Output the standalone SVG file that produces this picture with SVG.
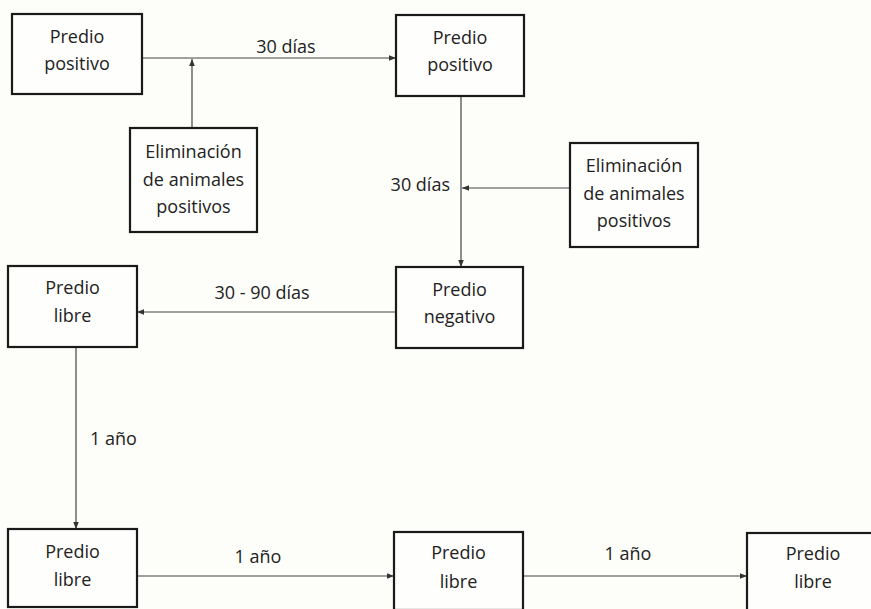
<svg xmlns="http://www.w3.org/2000/svg" width="871" height="609" viewBox="0 0 871 609">
<style>
.box{fill:#fefefc;stroke:#1a1a1a;stroke-width:2.2}
.t{font-family:"Open Sans","Liberation Sans",Arial,sans-serif;font-size:18px;fill:#222;text-anchor:middle}
.lbl{font-family:"Open Sans","Liberation Sans",Arial,sans-serif;font-size:18px;fill:#222}
.c{stroke:#444;stroke-width:1.2;fill:none;marker-end:url(#ah)}
</style>
<defs>
<marker id="ah" viewBox="0 0 10 10" refX="10" refY="5" markerWidth="7" markerHeight="7" markerUnits="userSpaceOnUse" orient="auto">
<path d="M0,1 L10,5 L0,9 z" fill="#333"/>
</marker>
</defs>
<rect width="871" height="609" fill="#fdfdfa"/>
<g id="connectors">
<line class="c" x1="142" y1="58" x2="396" y2="58"/>
<line class="c" x1="192" y1="128" x2="192" y2="59"/>
<line class="c" x1="461" y1="96" x2="461" y2="267"/>
<line class="c" x1="570" y1="188" x2="462" y2="188"/>
<line class="c" x1="396" y1="312" x2="137" y2="312"/>
<line class="c" x1="76" y1="347" x2="76" y2="529"/>
<line class="c" x1="137" y1="576" x2="394" y2="576"/>
<line class="c" x1="523" y1="576" x2="747" y2="576"/>
<text class="lbl" x="286" y="53" text-anchor="middle">30 días</text>
<text class="lbl" x="450" y="191" text-anchor="end">30 días</text>
<text class="lbl" x="262" y="299" text-anchor="middle">30 - 90 días</text>
<text class="lbl" x="90" y="445">1 año</text>
<text class="lbl" x="258" y="563" text-anchor="middle">1 año</text>
<text class="lbl" x="628" y="560" text-anchor="middle">1 año</text>
</g>
<g id="n1"><rect class="box" x="12" y="14" width="130" height="80"/><text class="t" x="77" y="43">Predio</text><text class="t" x="77" y="70">positivo</text></g>
<g id="n2"><rect class="box" x="396" y="15" width="128" height="81"/><text class="t" x="460" y="44">Predio</text><text class="t" x="460" y="71">positivo</text></g>
<g id="e1"><rect class="box" x="130" y="128" width="127" height="104"/><text class="t" x="193.5" y="158">Eliminación</text><text class="t" x="193.5" y="186">de animales</text><text class="t" x="193.5" y="213">positivos</text></g>
<g id="e2"><rect class="box" x="570" y="143" width="128" height="104"/><text class="t" x="634" y="172">Eliminación</text><text class="t" x="634" y="200">de animales</text><text class="t" x="634" y="227">positivos</text></g>
<g id="n3"><rect class="box" x="396" y="267" width="127" height="81"/><text class="t" x="459.5" y="296">Predio</text><text class="t" x="459.5" y="323">negativo</text></g>
<g id="n4"><rect class="box" x="8" y="266" width="129" height="81"/><text class="t" x="72.5" y="294">Predio</text><text class="t" x="72.5" y="322">libre</text></g>
<g id="n5"><rect class="box" x="8" y="529" width="129" height="78"/><text class="t" x="72.5" y="558">Predio</text><text class="t" x="72.5" y="586">libre</text></g>
<g id="n6"><rect class="box" x="394" y="532" width="129" height="78"/><text class="t" x="458.5" y="559">Predio</text><text class="t" x="458.5" y="588">libre</text></g>
<g id="n7"><rect class="box" x="747" y="533" width="134" height="78"/><text class="t" x="813" y="560">Predio</text><text class="t" x="813" y="588">libre</text></g>
</svg>
